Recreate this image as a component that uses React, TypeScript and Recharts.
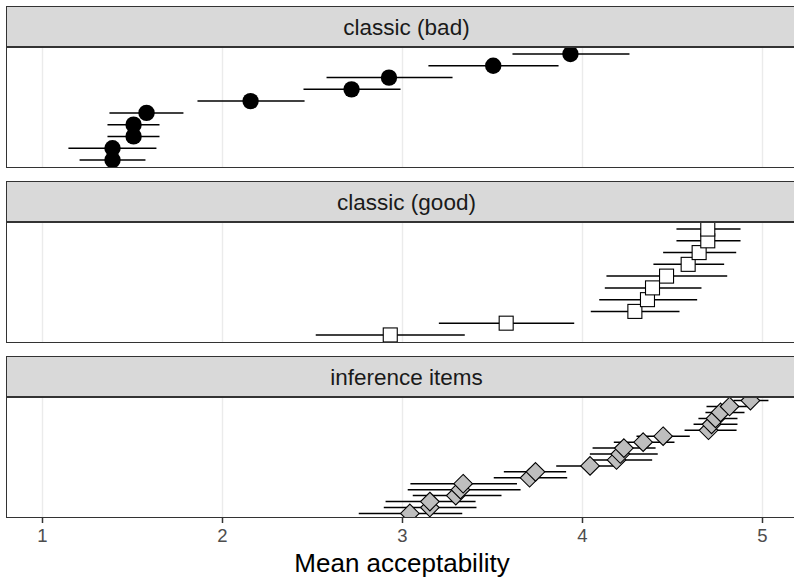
import React from 'react';
import { ScatterChart, Scatter, XAxis, YAxis, ErrorBar, ReferenceLine } from 'recharts';

const FONT = '"Liberation Sans", Arial, Helvetica, sans-serif';

const xTicks = [1, 2, 3, 4, 5];
const xDomain: [number, number] = [0.8028, 5.2417];

const panelTitles = ['classic (bad)', 'classic (good)', 'inference items'];
const axisTitle = 'Mean acceptability';

// classic (bad) — items ordered bottom to top
const badMean = [1.389, 1.389, 1.506, 1.506, 1.578, 2.156, 2.717, 2.925, 3.504, 3.933];
const badLow = [1.206, 1.144, 1.361, 1.361, 1.372, 1.861, 2.45, 2.578, 3.144, 3.611];
const badHigh = [1.572, 1.633, 1.65, 1.65, 1.783, 2.456, 2.989, 3.278, 3.867, 4.261];

// classic (good)
const goodMean = [2.932, 3.576, 4.291, 4.361, 4.389, 4.467, 4.587, 4.648, 4.696, 4.696];
const goodLow = [2.518, 3.202, 4.046, 4.093, 4.124, 4.133, 4.394, 4.448, 4.522, 4.522];
const goodHigh = [3.346, 3.954, 4.539, 4.637, 4.661, 4.804, 4.787, 4.854, 4.878, 4.878];

// inference items
const infMean = [3.041, 3.152, 3.152, 3.296, 3.322, 3.337, 3.706, 3.739, 4.042, 4.189, 4.21, 4.23, 4.337, 4.448, 4.7, 4.717, 4.739, 4.767, 4.817, 4.933];
const infLow = [2.757, 2.896, 2.906, 3.057, 3.029, 3.044, 3.507, 3.563, 3.854, 4.039, 4.041, 4.056, 4.174, 4.3, 4.567, 4.617, 4.644, 4.683, 4.689, 4.839];
const infHigh = [3.332, 3.411, 3.406, 3.55, 3.656, 3.636, 3.915, 3.909, 4.183, 4.387, 4.418, 4.406, 4.511, 4.596, 4.856, 4.861, 4.861, 4.9, 4.933, 5.033];

type Row = { item: number; mean: number; err: [number, number] };

function buildRows(mean: number[], low: number[], high: number[]): Row[] {
  return mean.map((m, i) => ({ item: i + 1, mean: m, err: [m - low[i], high[i] - m] }));
}

const badRows = buildRows(badMean, badLow, badHigh);
const goodRows = buildRows(goodMean, goodLow, goodHigh);
const infRows = buildRows(infMean, infLow, infHigh);

const CircleShape = (props: any) => <circle cx={props.cx} cy={props.cy} r={8.2} fill="#000000" />;
const SquareShape = (props: any) => (
  <rect x={props.cx - 7} y={props.cy - 7} width={14} height={14} fill="#FFFFFF" stroke="#000000" strokeWidth={1.1} />
);
const DiamondShape = (props: any) => {
  const { cx, cy } = props;
  const h = 9.3;
  return (
    <polygon
      points={`${cx},${cy - h} ${cx + h},${cy} ${cx},${cy + h} ${cx - h},${cy}`}
      fill="#BEBEBE"
      stroke="#000000"
      strokeWidth={1.1}
    />
  );
};
const EmptyShape = () => <g />;

const PANEL_LEFT = 6;
const PANEL_W = 801;

function Panel({ top, title, data, shape }: { top: number; title: string; data: Row[]; shape: any }) {
  const n = data.length;
  return (
    <>
      <div style={{ position: 'absolute', left: 7, top: top + 41, width: 787, height: 120, overflow: 'hidden' }}>
        <ScatterChart width={799} height={120} margin={{ top: 0, right: 0, bottom: 0, left: 0 }}>
          <XAxis type="number" dataKey="mean" domain={xDomain} ticks={xTicks} hide allowDataOverflow />
          <YAxis type="number" dataKey="item" domain={[0.4, n + 0.6]} hide allowDataOverflow />
          {xTicks.map((t) => (
            <ReferenceLine key={t} x={t} stroke="#EBEBEB" strokeWidth={1.4} />
          ))}
          <Scatter data={data} shape={shape} isAnimationActive={false}>
            <ErrorBar dataKey="err" direction="x" width={0} stroke="#000000" strokeWidth={1.5} />
          </Scatter>
        </ScatterChart>
      </div>
      <div
        style={{
          position: 'absolute',
          left: PANEL_LEFT,
          top: top,
          width: PANEL_W,
          height: 42,
          boxSizing: 'border-box',
          background: '#D9D9D9',
          border: '1.5px solid #333333',
        }}
      />
      <div
        style={{
          position: 'absolute',
          left: PANEL_LEFT,
          width: PANEL_W,
          top: top + 11,
          textAlign: 'center',
          fontFamily: FONT,
          fontSize: 22.5,
          lineHeight: '22.5px',
          color: '#1A1A1A',
          whiteSpace: 'nowrap',
        }}
      >
        {title}
      </div>
      <div
        style={{
          position: 'absolute',
          left: PANEL_LEFT,
          top: top + 40,
          width: PANEL_W,
          height: 122,
          boxSizing: 'border-box',
          border: '1.5px solid #333333',
          pointerEvents: 'none',
        }}
      />
    </>
  );
}

export default function App() {
  return (
    <div
      style={{
        position: 'absolute',
        left: 0,
        top: 0,
        width: 794,
        height: 578,
        overflow: 'hidden',
        background: '#FFFFFF',
        fontFamily: FONT,
      }}
    >
      <Panel top={6} title={panelTitles[0]} data={badRows} shape={CircleShape} />
      <Panel top={181} title={panelTitles[1]} data={goodRows} shape={SquareShape} />
      <Panel top={356} title={panelTitles[2]} data={infRows} shape={DiamondShape} />

      <div style={{ position: 'absolute', left: 0, top: 517, width: 794, height: 40, overflow: 'hidden' }}>
        <ScatterChart width={813} height={40} margin={{ top: 0, right: 7, bottom: 0, left: 7 }}>
          <XAxis
            type="number"
            dataKey="mean"
            domain={xDomain}
            ticks={xTicks}
            interval={0}
            allowDataOverflow
            height={39}
            axisLine={false}
            tickLine={{ stroke: '#333333', strokeWidth: 1.5 }}
            tickSize={5}
            tickMargin={6}
            tick={{ fill: '#4D4D4D', fontSize: 18.5, fontFamily: FONT }}
          />
          <YAxis type="number" dataKey="item" domain={[0, 100]} hide allowDataOverflow />
          <Scatter data={infRows} shape={EmptyShape} isAnimationActive={false} />
        </ScatterChart>
      </div>

      <div
        style={{
          position: 'absolute',
          left: 0,
          width: 804,
          top: 549.7,
          textAlign: 'center',
          fontFamily: FONT,
          fontSize: 26,
          lineHeight: '26px',
          color: '#000000',
          whiteSpace: 'nowrap',
        }}
      >
        {axisTitle}
      </div>
    </div>
  );
}
